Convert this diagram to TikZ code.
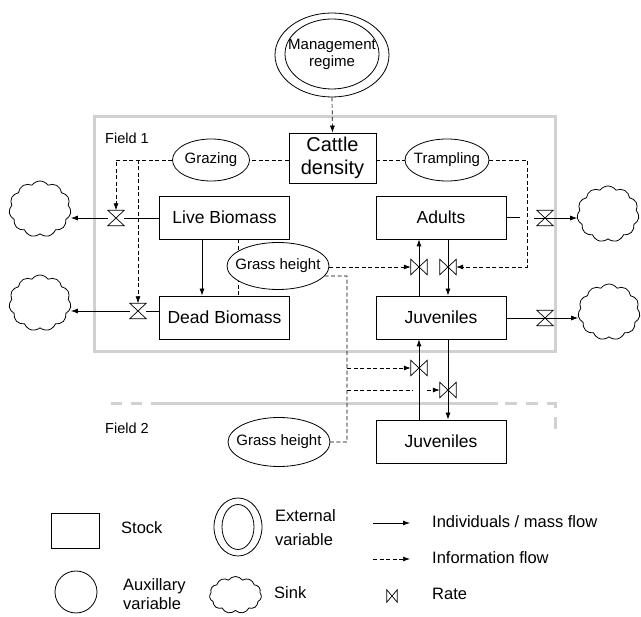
\documentclass[tikz,border=0pt]{standalone}
\usepackage{fontspec}
\setmainfont{Liberation Sans}
\usetikzlibrary{calc,shapes,arrows.meta}

\begin{document}
\begin{tikzpicture}[x=1pt,y=-1pt,
  stock/.style={draw,line width=0.8pt,minimum width=130pt,minimum height=43pt,inner sep=0pt,font=\fontsize{17.5}{20}\selectfont},
  aux/.style={draw,ellipse,line width=0.8pt,fill=white,inner sep=0pt,label={[font=\fontsize{15}{17}\selectfont,align=center]center:#1}},
  sink/.style={draw,cloud,cloud puffs=11,cloud puff arc=110,aspect=1.1,line width=0.8pt,inner sep=0pt,minimum width=62pt,minimum height=56pt},
  valve/.style={minimum width=16pt,minimum height=15pt,inner sep=0pt},
  flow/.style={line width=0.8pt,-{Latex[length=7pt,width=5pt]}},
  flowline/.style={line width=0.8pt},
  info/.style={line width=0.7pt,dash pattern=on 4pt off 2.5pt,-{Latex[length=7pt,width=5pt]}},
  infoline/.style={line width=0.7pt,dash pattern=on 4pt off 2.5pt},
  field/.style={line width=3pt,black!18},
  lbl/.style={font=\fontsize{16.5}{19}\selectfont,anchor=west,inner sep=0pt,align=left}]
\useasboundingbox (0,0) rectangle (641,617);

% fields
\draw[field] (94,117) rectangle (555,352);
\draw[field,dash pattern=on 11pt off 9pt] (111,404) -- (152,404);
\draw[field] (152,404) -- (498,404);
\draw[field,dash pattern=on 12pt off 9pt] (505,404) -- (555,404) -- (555,430);
\node[anchor=west,inner sep=0pt,font=\fontsize{14.5}{17}\selectfont] (field1) at (105,138) {Field 1};
\node[anchor=west,inner sep=0pt,font=\fontsize{14.5}{17}\selectfont] (field2) at (105,428) {Field 2};

% management and cattle
\node[draw,ellipse,line width=0.8pt,minimum width=114pt,minimum height=84pt] (mgmt) at (332,55) {};
\node[aux={Management\\regime},minimum width=94pt,minimum height=70pt] (mgmtin) at (332,54) {};
\node[stock,minimum width=87pt,minimum height=50pt,align=center,font=\fontsize{20}{23}\selectfont] (cattle) at (332.5,158) {Cattle\\density};
\node[aux=Grazing,minimum width=77pt,minimum height=42pt] (grazing) at (211,160) {};
\node[aux=Trampling,minimum width=84pt,minimum height=42pt] (trampling) at (447,160) {};

% stocks
\node[stock] (live) at (224.5,217.5) {Live Biomass};
\node[stock] (dead) at (224.5,317.5) {Dead Biomass};
\node[stock] (adults) at (441,217.5) {Adults};
\node[stock] (juv1) at (441,317.5) {Juveniles};
\node[stock] (juv2) at (441,441.5) {Juveniles};

% grass height
\draw[infoline] ([xshift=13.5pt]live.south) -- ([xshift=13.5pt]dead.north);
\node[aux=Grass height,minimum width=102pt,minimum height=47pt] (gh1) at (278,266) {};
\node[aux=Grass height,minimum width=102pt,minimum height=49pt] (gh2) at (279,442) {};

% sinks
\node[sink] (sink1) at (40,209) {};
\node[sink] (sink2) at (40,303) {};
\node[sink] (sink3) at (608,214) {};
\node[sink] (sink4) at (609,312) {};

% rates
\node[valve] (v1) at (116,218) {};
\node[valve] (v2) at (138,311) {};
\node[valve] (v3) at (419,267) {};
\node[valve] (v4) at (448,267) {};
\node[valve] (v5) at (419,368) {};
\node[valve] (v6) at (448,390) {};
\node[valve] (v7) at (545,218) {};
\node[valve] (v8) at (545,318) {};
\foreach \v in {v1,v2,v7,v8}
  \draw[line width=0.7pt] (\v.north west) -- (\v.north east) -- (\v.south west) -- (\v.south east) -- cycle;
\foreach \v in {v3,v4,v5,v6}
  \draw[line width=0.7pt] (\v.north west) -- (\v.south west) -- (\v.north east) -- (\v.south east) -- cycle;

% mass flows
\draw[flowline] (live.west |- v1) -- (v1);
\draw[flow] (v1) -- (v1 -| sink1.east);
\draw[flowline] (dead.west |- v2) -- (v2);
\draw[flow] (v2) -- (v2 -| sink2.east);
\draw[flow] ([xshift=-22.5pt]live.south) -- ([xshift=-22.5pt]dead.north);
\draw[flowline] (adults.east) -- ++(14,0);
\draw[flow] ([xshift=-11pt]v7.center) -- (v7 -| sink3.west);
\draw[flow] (juv1.east |- v8) -- (v8 -| sink4.west);
\draw[flow] (v3 |- juv1.north) -- (v3 |- adults.south);
\draw[flow] (v4 |- adults.south) -- (v4 |- juv1.north);
\draw[flow] (v5 |- juv2.north) -- (v5 |- juv1.south);
\draw[flow] (v6 |- juv1.south) -- (v6 |- juv2.north);

% information flows
\draw[info] (mgmt.south) -- (cattle.north);
\draw[infoline] (cattle.west |- grazing) -- (grazing.east);
\draw[infoline] (cattle.east |- trampling) -- (trampling.west);
\draw[info] (grazing.west) -| (v1.north);
\draw[info] (grazing.west -| v2) -- (v2.north);
\coordinate (tbus) at (527,267);
\draw[info] (trampling.east) -| (tbus) -- (v4.east);
\draw[info] (gh1.east |- v3) -- (v3.west);
\coordinate (gbus) at (347,276);
\draw[infoline] (gh1.-12) -- (gbus) -- (gbus |- gh2.east) -- (gh2.east);
\draw[info] (gbus |- v5) -- (v5.west);
\draw[infoline] (gbus |- v6) -- ([xshift=-6pt]v5 |- v6);
\draw[info] ([xshift=8pt]v5 |- v6) -- (v6.west);

% legend
\node[stock,minimum width=48pt,minimum height=35pt] (lgstock) at (75,530.5) {};
\node[lbl] (lgstocktxt) at (121,528) {Stock};
\node[draw,circle,line width=0.8pt,minimum size=42pt] (lgaux) at (76,592) {};
\node[lbl,font=\fontsize{16.5}{19}\selectfont] (lgauxtxt) at (123,594.5) {Auxillary\\variable};
\node[draw,ellipse,line width=0.8pt,minimum width=48pt,minimum height=58pt] (lgext) at (238,527) {};
\node[draw,ellipse,line width=0.8pt,minimum width=32pt,minimum height=45pt] (lgextin) at (238,527) {};
\node[lbl,font=\fontsize{16.5}{24}\selectfont] (lgexttxt) at (275,527.5) {External\\variable};
\node[sink,minimum width=52pt,minimum height=37pt,aspect=1.4] (lgsink) at (235.5,595) {};
\node[lbl] (lgsinktxt) at (274,593) {Sink};
\coordinate (lgflow) at (373,523);
\draw[flow] (lgflow) -- ++(37,0);
\node[lbl] (lgflowtxt) at (432,522) {Individuals / mass flow};
\coordinate (lginfo) at (373,559);
\draw[info] (lginfo) -- ++(37,0);
\node[lbl] (lginfotxt) at (432,558) {Information flow};
\node[valve,minimum width=10pt,minimum height=12pt] (lgrate) at (392,596) {};
\draw[line width=0.7pt] (lgrate.north west) -- (lgrate.south west) -- (lgrate.north east) -- (lgrate.south east) -- cycle;
\node[lbl] (lgratetxt) at (432,594) {Rate};
\end{tikzpicture}
\end{document}
